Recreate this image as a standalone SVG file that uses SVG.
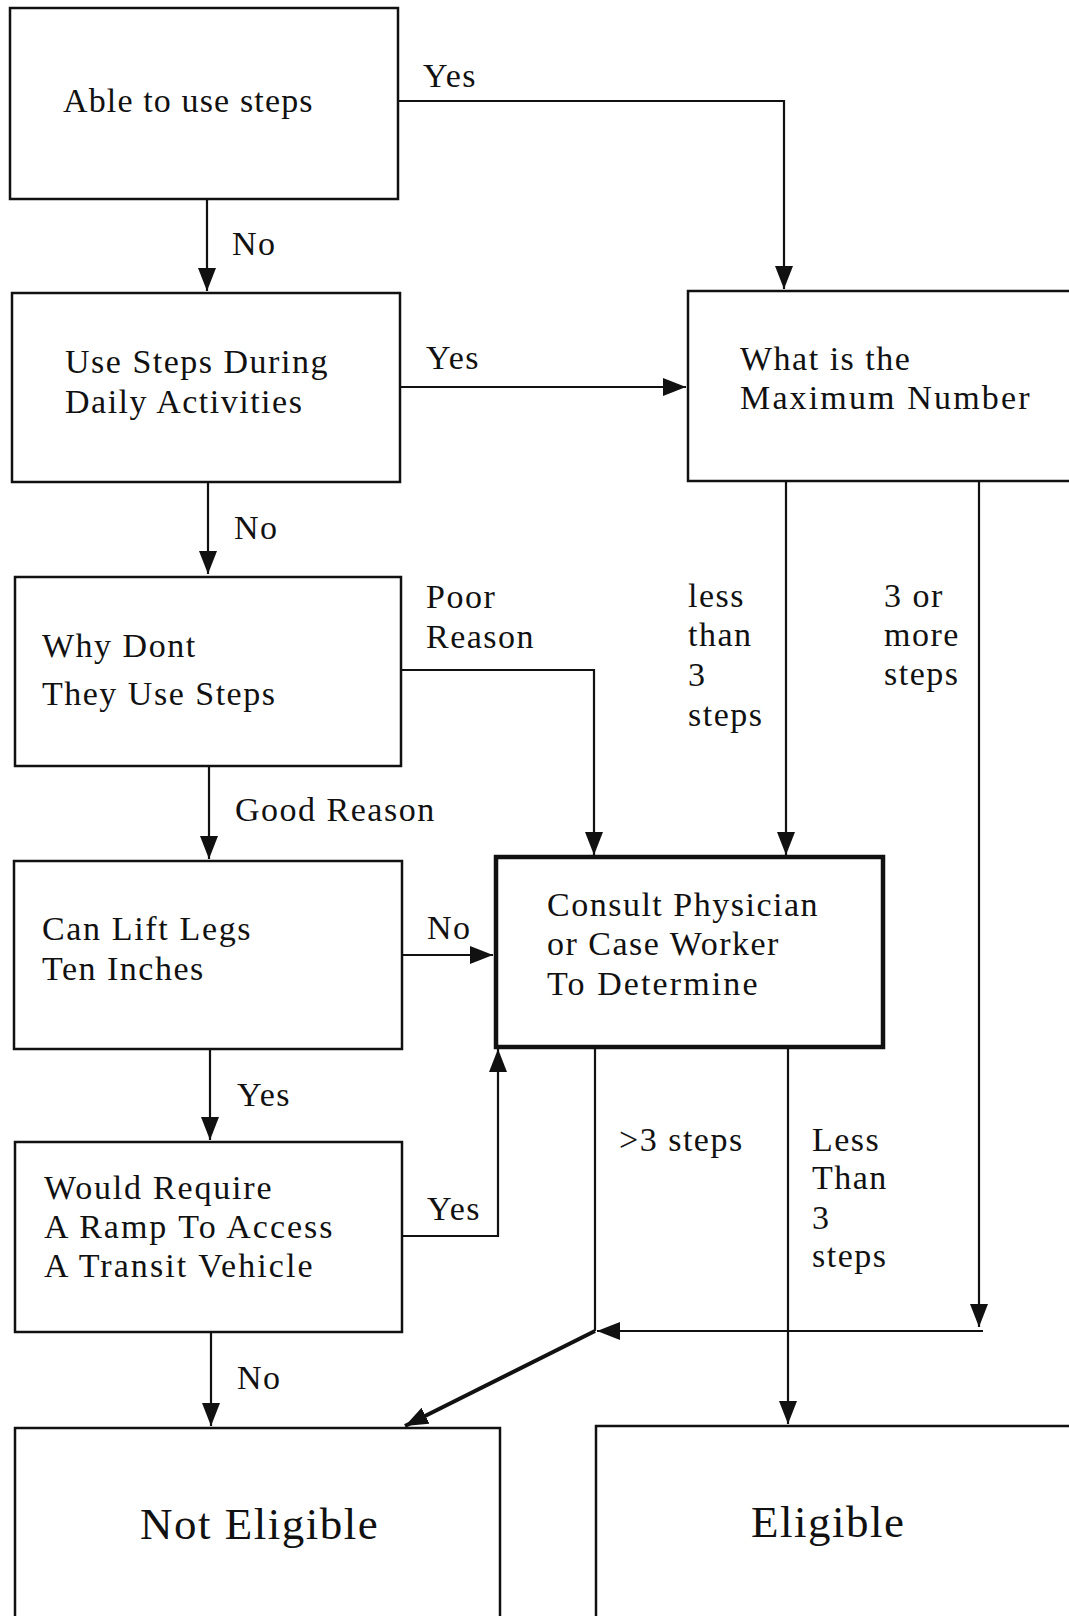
<svg xmlns="http://www.w3.org/2000/svg" width="1069" height="1616" viewBox="0 0 1069 1616">
<defs>
<style>
.box{fill:#fff;stroke:#111;stroke-width:2.5}
.thick{stroke-width:4.5}
.t{font-family:"Liberation Serif","Times New Roman",serif;font-size:34px;letter-spacing:1.5px;fill:#111}
.big{font-size:45px;letter-spacing:1.5px}
.c{fill:none;stroke:#111;stroke-width:2.2}
.d{fill:none;stroke:#111;stroke-width:4}
</style>
<marker id="ah" markerUnits="userSpaceOnUse" markerWidth="26" markerHeight="20" refX="23" refY="9" orient="auto">
<path d="M0,0 L23,9 L0,18 Z" fill="#111"/>
</marker>
</defs>
<rect width="1069" height="1616" fill="#fff"/>
<g id="connectors">
<path class="c" d="M207,199 V291" marker-end="url(#ah)"/>
<path class="c" d="M398,101 H784 V289" marker-end="url(#ah)"/>
<path class="c" d="M400,387 H686" marker-end="url(#ah)"/>
<path class="c" d="M208,482 V574" marker-end="url(#ah)"/>
<path class="c" d="M401,670 H594 V855" marker-end="url(#ah)"/>
<path class="c" d="M786,481 V855" marker-end="url(#ah)"/>
<path class="c" d="M979,481 V1327" marker-end="url(#ah)"/>
<path class="c" d="M209,766 V859" marker-end="url(#ah)"/>
<path class="c" d="M402,955 H493" marker-end="url(#ah)"/>
<path class="c" d="M210,1049 V1140" marker-end="url(#ah)"/>
<path class="c" d="M402,1236 H498 V1049" marker-end="url(#ah)"/>
<path class="c" d="M595,1047 V1331"/>
<path class="c" d="M983,1331 H597" marker-end="url(#ah)"/>
<path class="d" d="M595,1331 L405,1426" marker-end="url(#ah)"/>
<path class="c" d="M788,1047 V1424" marker-end="url(#ah)"/>
<path class="c" d="M211,1332 V1426" marker-end="url(#ah)"/>
<text class="t" x="423" y="87">Yes</text>
<text class="t" x="232" y="255">No</text>
<text class="t" x="426" y="369">Yes</text>
<text class="t" x="234" y="539">No</text>
<text class="t" x="426" y="608">Poor</text>
<text class="t" x="426" y="648">Reason</text>
<text class="t" x="688" y="607">less</text>
<text class="t" x="688" y="646">than</text>
<text class="t" x="688" y="686">3</text>
<text class="t" x="688" y="726">steps</text>
<text class="t" x="884" y="607">3 or</text>
<text class="t" x="884" y="646">more</text>
<text class="t" x="884" y="685">steps</text>
<text class="t" x="235" y="821">Good Reason</text>
<text class="t" x="427" y="939">No</text>
<text class="t" x="237" y="1106">Yes</text>
<text class="t" x="427" y="1220">Yes</text>
<text class="t" x="619" y="1151">&gt;3 steps</text>
<text class="t" x="812" y="1151">Less</text>
<text class="t" x="812" y="1189">Than</text>
<text class="t" x="812" y="1229">3</text>
<text class="t" x="812" y="1267">steps</text>
<text class="t" x="237" y="1389">No</text>
</g>
<g id="able">
<rect class="box" x="10" y="8" width="388" height="191"/>
<text class="t" x="63" y="112" textLength="251">Able to use steps</text>
</g>
<g id="daily">
<rect class="box" x="12" y="293" width="388" height="189"/>
<text class="t" x="65" y="373">Use Steps During</text>
<text class="t" x="65" y="413">Daily Activities</text>
</g>
<g id="maximum">
<rect class="box" x="688" y="291" width="400" height="190"/>
<text class="t" x="740" y="370">What is the</text>
<text class="t" x="740" y="409" textLength="291">Maximum Number</text>
</g>
<g id="why">
<rect class="box" x="15" y="577" width="386" height="189"/>
<text class="t" x="42" y="657">Why Dont</text>
<text class="t" x="42" y="705">They Use Steps</text>
</g>
<g id="lift">
<rect class="box" x="14" y="861" width="388" height="188"/>
<text class="t" x="42" y="940" textLength="210">Can Lift Legs</text>
<text class="t" x="42" y="980">Ten Inches</text>
</g>
<g id="consult">
<rect class="box thick" x="496" y="857" width="387" height="190"/>
<text class="t" x="547" y="916">Consult Physician</text>
<text class="t" x="547" y="955">or Case Worker</text>
<text class="t" x="547" y="995" textLength="212">To Determine</text>
</g>
<g id="ramp">
<rect class="box" x="15" y="1142" width="387" height="190"/>
<text class="t" x="44" y="1199" textLength="229">Would Require</text>
<text class="t" x="44" y="1238" textLength="290">A Ramp To Access</text>
<text class="t" x="44" y="1277" textLength="270">A Transit Vehicle</text>
</g>
<g id="not-eligible">
<rect class="box" x="15" y="1428" width="485" height="200"/>
<text class="t big" x="140" y="1539">Not Eligible</text>
</g>
<g id="eligible">
<rect class="box" x="596" y="1426" width="490" height="202"/>
<text class="t big" x="751" y="1537">Eligible</text>
</g>
</svg>
